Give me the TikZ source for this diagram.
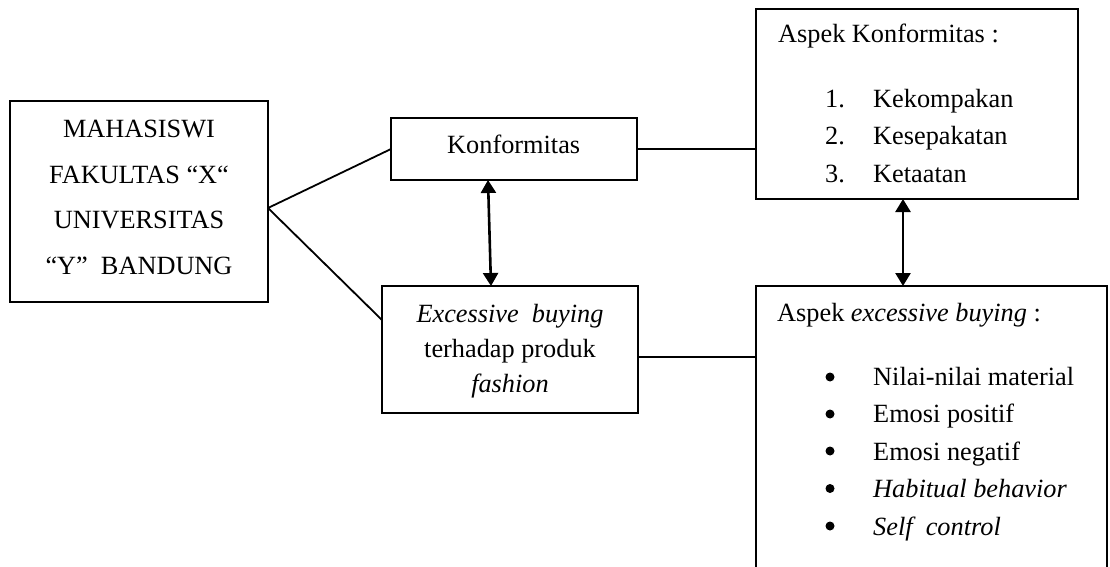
\documentclass[tikz,border=0pt]{standalone}
\usepackage{fontspec}
\setmainfont{Liberation Serif}
\usetikzlibrary{arrows.meta,calc}
\begin{document}
\begin{tikzpicture}[x=1pt,y=-1pt,
  box/.style={draw, line width=1.8pt, rectangle, inner sep=0pt, outer sep=0pt},
  txt/.style={font=\fontsize{26.3}{30}\selectfont, inner sep=0pt, anchor=base},
  ltxt/.style={txt, anchor=base west},
  link/.style={line width=1.8pt},
  arr/.style={line width=2.6pt, {Triangle[width=15pt,length=13pt]}-{Triangle[width=15pt,length=13pt]}},
  dot/.style={circle, fill, inner sep=0pt, minimum size=9pt}]
\useasboundingbox (0,0) rectangle (1110,567);
\clip (0,0) rectangle (1110,567);
\fill[white] (0,0) rectangle (1110,567);

% boxes
\node[box, minimum width=258pt, minimum height=201pt] (left) at (139,201.5) {};
\node[box, minimum width=246pt, minimum height=62pt] (konf) at (514,149) {};
\node[box, minimum width=256pt, minimum height=127pt] (exc) at (510,349.5) {};
\node[box, minimum width=322pt, minimum height=190pt] (aspk) at (917,104) {};
\node[box, minimum width=351pt, minimum height=320pt] (aspe) at (931.5,446) {};

% left text
\node[txt] (l1) at (139,137) {MAHASISWI};
\node[txt] (l2) at (139,183) {FAKULTAS “X“};
\node[txt] (l3) at (139,228) {UNIVERSITAS};
\node[txt] (l4) at (139,274) {“Y”\ \ BANDUNG};

% konformitas
\node[txt] (kt) at (513.7,153) {Konformitas};

% excessive
\node[txt] (e1) at (510,322) {\itshape Excessive\ \ buying};
\node[txt] (e2) at (510,357) {terhadap produk};
\node[txt] (e3) at (510,392) {\itshape fashion};

% aspek konformitas
\node[ltxt] (ak) at (778,43) {Aspek Konformitas :};
\node[ltxt] (n1) at (825,107) {1.};
\node[ltxt] (k1) at (873,107) {Kekompakan};
\node[ltxt] (n2) at (825,144.5) {2.};
\node[ltxt] (k2) at (873,144.5) {Kesepakatan};
\node[ltxt] (n3) at (825,182) {3.};
\node[ltxt] (k3) at (873,182) {Ketaatan};

% aspek excessive buying
\node[ltxt] (ae) at (777,321) {Aspek \textit{excessive buying} :};
\node[dot] (b1) at (830,377) {};
\node[dot] (b2) at (830,414) {};
\node[dot] (b3) at (830,451) {};
\node[dot] (b4) at (830,488.5) {};
\node[dot] (b5) at (830,526) {};
\node[ltxt] (i1) at (873,385) {Nilai-nilai material};
\node[ltxt] (i2) at (873,422.5) {Emosi positif};
\node[ltxt] (i3) at (873,460) {Emosi negatif};
\node[ltxt] (i4) at (873,497.5) {\itshape Habitual behavior};
\node[ltxt] (i5) at (873,535) {\itshape Self\ \ control};

% connectors
\coordinate (lj) at ([yshift=-6.5pt]left.east);
\draw[link] (lj) -- (konf.west);
\draw[link] (lj) -- ([yshift=29.5pt]exc.west);
\draw[link] (konf.east) -- (konf.east -| aspk.west);
\draw[link] ([yshift=-7.5pt]exc.east) -- ([yshift=-7.5pt]exc.east -| aspe.west);
\draw[arr] ([xshift=-26pt]konf.south) -- ([xshift=-19pt]exc.north);
\draw[arr] ([xshift=-14pt]aspk.south) -- ([xshift=-14pt]aspk.south |- aspe.north);
\end{tikzpicture}
\end{document}
